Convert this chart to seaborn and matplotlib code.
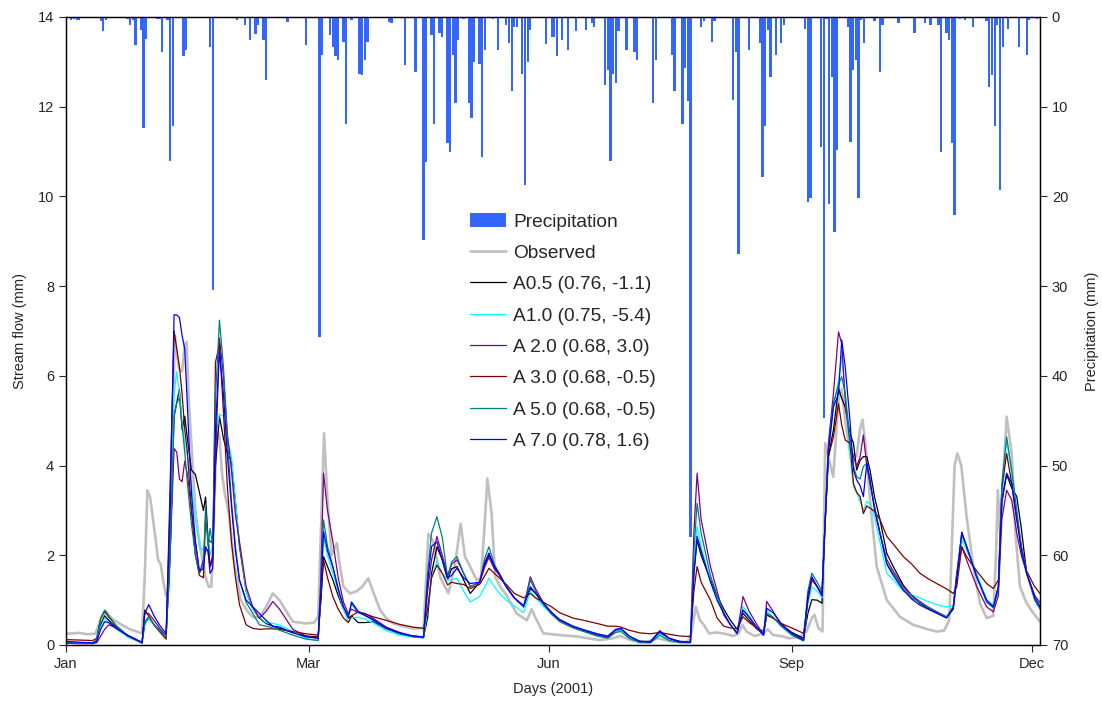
import matplotlib
matplotlib.use("Agg")
import matplotlib.pyplot as plt
import seaborn as sns
from matplotlib.patches import Patch
from matplotlib.lines import Line2D

# ---------------- data ----------------
model_days = [0, 5, 10, 11.5, 13, 14.5, 16, 19, 23, 28.5,
              29.5, 31, 33, 35, 37.5, 39, 40.5, 41.5, 42.5, 43.5,
              44.5, 45.5, 47, 48.5, 50, 51.5, 52.3, 53.2, 54, 55,
              56, 57.5, 59, 60.5, 62, 63.5, 65, 67.5, 70, 72.5,
              75, 77.5, 80, 85, 90, 94.5, 95.5, 96.5, 98, 100,
              102, 104, 105.8, 107, 109.5, 112, 115, 120, 125, 130,
              134, 135.5, 137, 139, 141, 143, 144.5, 146.5, 149, 151.5,
              155, 157, 158.5, 160.5, 162.5, 165, 168, 171.5, 174, 176,
              179, 182, 185, 190, 194, 199, 203, 206, 208, 211,
              215, 219, 222.5, 226, 230, 234, 235.3, 236.5, 238, 241.5,
              244, 246.5, 249, 251.5, 253.7, 256, 259, 261.4, 262.6, 265,
              268, 272, 276.4, 278, 279.5, 281.5, 283.3, 284.3, 285.7, 287.6,
              289.5, 290.7, 292, 293.8, 295.1, 296.3, 297.6, 298.8, 300.1, 301.3,
              303, 305, 307.6, 310, 313.8, 317, 320, 323, 326.3, 330,
              332.5, 333.8, 335.7, 337.5, 340, 341.3, 345, 347.5, 349.4, 350.7,
              352.5, 354.4, 356.3, 358, 360, 363, 365]

a05 = [.06, .05, .04, .10, .45, .65, .55, .38, .20, .05,
       .50, .63, .45, .33, .18, 2.0, 5.1, 5.4, 5.7, 4.8,
       5.1, 4.6, 3.9, 3.8, 3.4, 3.0, 3.3, 2.4, 2.3, 2.3,
       4.0, 5.1, 4.6, 4.27, 4.1, 3.2, 2.2, 1.2, 0.8, 0.6,
       0.48, 0.42, 0.37, 0.28, 0.2, 0.18, 1.0, 1.97, 1.75, 1.45,
       1.1, 0.8, 0.6, 0.65, 0.5, 0.5, 0.52, 0.37, 0.26, 0.2,
       0.18, 0.6, 1.6, 2.19, 1.9, 1.45, 1.7, 1.75, 1.45, 1.15,
       1.4, 1.8, 2.0, 1.75, 1.55, 1.3, 1.05, 0.85, 1.26, 1.15,
       0.9, 0.72, 0.55, 0.4, 0.33, 0.24, 0.18, 0.3, 0.33, 0.18,
       0.08, 0.07, 0.28, 0.15, 0.08, 0.06, 1.6, 2.34, 2.0, 1.45,
       1.1, 0.8, 0.55, 0.35, 0.71, 0.55, 0.35, 0.25, 0.67, 0.6,
       0.45, 0.28, 0.15, 0.7, 1.01, 1.0, 0.93, 2.5, 4.2, 4.8,
       5.72, 5.5, 5.3, 4.7, 4.5, 3.9, 4.12, 4.2, 4.2, 3.9,
       3.3, 2.8, 2.04, 1.75, 1.33, 1.1, 0.93, 0.82, 0.71, 0.62,
       0.8, 1.5, 2.49, 2.2, 1.75, 1.52, 1.0, 0.85, 1.3, 3.2,
       3.8, 3.5, 3.31, 2.6, 1.6, 1.1, 0.85]

a10 = [.08, .06, .05, .10, .40, .60, .50, .35, .18, .05,
       .50, .58, .45, .32, .18, 2.0, 5.6, 6.1, 5.6, 5.0,
       4.5, 4.2, 3.6, 2.8, 2.2, 2.1, 2.6, 2.5, 2.0, 2.2,
       4.6, 5.15, 5.1, 4.6, 4.2, 3.2, 2.3, 1.2, 0.8, 0.62,
       0.5, 0.48, 0.45, 0.3, 0.15, 0.1, 1.2, 2.42, 2.0, 1.6,
       1.2, 0.8, 0.52, 0.6, 0.62, 0.58, 0.5, 0.32, 0.22, 0.18,
       0.16, 0.8, 1.5, 1.86, 1.6, 1.45, 1.45, 1.49, 1.2, 0.96,
       1.08, 1.3, 1.49, 1.3, 1.15, 1.0, 0.87, 0.72, 1.2, 1.05,
       0.85, 0.7, 0.55, 0.42, 0.34, 0.25, 0.2, 0.3, 0.32, 0.18,
       0.08, 0.06, 0.25, 0.12, 0.06, 0.05, 1.8, 2.64, 2.2, 1.41,
       1.0, 0.7, 0.45, 0.26, 0.86, 0.65, 0.38, 0.22, 0.78, 0.62,
       0.42, 0.25, 0.11, 0.9, 1.3, 1.2, 1.05, 2.5, 4.35, 5.31,
       5.9, 6.43, 5.6, 4.2, 3.53, 3.4, 3.2, 3.0, 3.2, 3.15,
       2.85, 2.3, 1.6, 1.45, 1.2, 1.12, 1.05, 0.97, 0.9, 0.85,
       0.88, 1.5, 2.34, 2.1, 1.8, 1.6, 1.0, 0.89, 1.2, 3.3,
       4.57, 3.8, 2.9, 2.2, 1.6, 1.1, 0.9]

a20 = [.04, .03, .03, .05, .20, .35, .45, .38, .22, .06,
       .70, .70, .55, .38, .20, 2.0, 4.38, 4.3, 3.7, 3.64,
       4.1, 3.8, 3.0, 2.3, 1.6, 1.9, 2.1, 2.11, 1.75, 1.9,
       4.0, 6.84, 6.0, 4.7, 3.9, 2.9, 2.3, 1.3, 0.85, 0.6,
       0.75, 0.97, 0.8, 0.35, 0.2, 0.15, 1.5, 3.83, 3.0, 2.3,
       1.5, 0.95, 0.7, 0.8, 0.72, 0.7, 0.6, 0.4, 0.28, 0.2,
       0.18, 1.2, 1.9, 2.42, 2.0, 1.55, 1.8, 1.9, 1.6, 1.3,
       1.4, 1.75, 1.95, 1.7, 1.55, 1.3, 1.05, 0.85, 1.52, 1.25,
       0.93, 0.72, 0.55, 0.4, 0.31, 0.22, 0.17, 0.33, 0.37, 0.2,
       0.08, 0.08, 0.32, 0.15, 0.07, 0.06, 2.5, 3.83, 2.8, 1.75,
       1.2, 0.67, 0.45, 0.26, 1.08, 0.75, 0.45, 0.22, 0.97, 0.75,
       0.45, 0.25, 0.1, 1.0, 1.45, 1.3, 1.1, 2.5, 4.5, 5.61,
       6.98, 6.72, 5.46, 4.5, 4.2, 3.98, 4.2, 4.68, 4.0, 3.6,
       3.08, 2.5, 1.9, 1.65, 1.3, 1.1, 0.97, 0.85, 0.74, 0.62,
       0.85, 1.6, 2.19, 1.89, 1.5, 1.3, 0.85, 0.74, 1.1, 2.8,
       3.45, 3.23, 2.49, 2.0, 1.6, 1.1, 0.95]

a30 = [.12, .11, .10, .15, .60, .75, .62, .42, .22, .05,
       .78, .65, .45, .30, .13, 3.5, 7.0, 6.6, 6.2, 5.6,
       4.8, 4.3, 3.0, 2.0, 1.55, 1.5, 2.86, 2.4, 1.75, 2.0,
       6.3, 6.7, 5.2, 3.5, 2.3, 1.5, 0.9, 0.45, 0.37, 0.35,
       0.36, 0.36, 0.35, 0.3, 0.25, 0.22, 1.0, 1.9, 1.5, 1.08,
       0.8, 0.6, 0.5, 0.65, 0.74, 0.7, 0.63, 0.55, 0.46, 0.4,
       0.37, 0.8, 1.5, 1.78, 1.6, 1.34, 1.4, 1.37, 1.35, 1.26,
       1.35, 1.55, 1.71, 1.6, 1.49, 1.35, 1.15, 1.05, 1.15, 1.05,
       0.95, 0.85, 0.72, 0.6, 0.55, 0.48, 0.42, 0.42, 0.40, 0.33,
       0.27, 0.25, 0.28, 0.24, 0.2, 0.19, 1.2, 1.75, 1.4, 1.0,
       0.6, 0.42, 0.38, 0.36, 0.63, 0.5, 0.38, 0.3, 0.67, 0.6,
       0.48, 0.38, 0.26, 1.0, 1.5, 1.3, 1.15, 2.5, 4.2, 4.64,
       5.38, 4.9, 4.57, 4.5, 3.6, 3.4, 3.31, 2.93, 3.1, 3.05,
       2.98, 2.8, 2.42, 2.25, 1.97, 1.8, 1.6, 1.48, 1.37, 1.25,
       1.15, 1.3, 2.19, 1.97, 1.75, 1.65, 1.37, 1.26, 1.45, 3.5,
       4.27, 3.6, 2.8, 2.2, 1.65, 1.3, 1.15]

a50 = [.05, .04, .04, .12, .60, .78, .65, .42, .20, .04,
       .45, .63, .45, .32, .20, 2.0, 5.1, 5.4, 5.5, 4.9,
       4.3, 3.6, 2.7, 2.0, 1.6, 1.8, 3.08, 2.2, 2.6, 2.2,
       5.5, 7.24, 6.2, 4.6, 3.2, 2.2, 1.45, 0.95, 0.7, 0.45,
       0.42, 0.38, 0.33, 0.22, 0.13, 0.1, 1.3, 2.79, 2.2, 1.75,
       1.25, 0.85, 0.65, 0.92, 0.72, 0.66, 0.55, 0.36, 0.25, 0.18,
       0.16, 1.6, 2.5, 2.86, 2.4, 1.5, 1.85, 1.97, 1.6, 1.3,
       1.4, 1.95, 2.19, 1.8, 1.58, 1.3, 1.05, 0.85, 1.45, 1.2,
       0.9, 0.68, 0.52, 0.38, 0.3, 0.2, 0.15, 0.28, 0.3, 0.15,
       0.05, 0.05, 0.22, 0.1, 0.05, 0.05, 2.1, 3.16, 2.5, 1.55,
       1.1, 0.72, 0.45, 0.25, 0.78, 0.62, 0.38, 0.22, 0.71, 0.62,
       0.42, 0.22, 0.09, 1.2, 1.6, 1.4, 1.2, 2.5, 4.35, 5.4,
       5.8, 5.98, 5.6, 4.6, 3.98, 3.75, 3.7, 3.98, 4.05, 3.6,
       3.08, 2.5, 1.82, 1.6, 1.25, 1.05, 0.95, 0.84, 0.74, 0.63,
       0.85, 1.6, 2.45, 2.2, 1.75, 1.52, 0.95, 0.83, 1.25, 3.6,
       4.64, 3.9, 3.0, 2.2, 1.6, 1.0, 0.8]

a70 = [.08, .06, .05, .08, .35, .52, .50, .36, .22, .05,
       .70, .90, .65, .45, .25, 3.0, 7.36, 7.36, 7.3, 6.9,
       6.6, 5.3, 3.4, 2.3, 1.65, 1.7, 2.19, 2.1, 1.6, 1.7,
       4.8, 6.54, 5.6, 4.2, 3.1, 2.1, 1.45, 1.0, 0.85, 0.7,
       0.55, 0.42, 0.40, 0.27, 0.18, 0.15, 1.2, 2.53, 2.1, 1.74,
       1.25, 0.85, 0.62, 0.96, 0.75, 0.66, 0.57, 0.38, 0.27, 0.2,
       0.18, 1.4, 2.2, 2.3, 1.9, 1.5, 1.55, 1.71, 1.5, 1.37,
       1.4, 1.85, 2.05, 1.75, 1.58, 1.3, 1.05, 0.88, 1.3, 1.15,
       0.93, 0.72, 0.57, 0.42, 0.34, 0.25, 0.2, 0.35, 0.37, 0.2,
       0.08, 0.06, 0.3, 0.15, 0.07, 0.06, 1.6, 2.42, 2.1, 1.41,
       1.0, 0.7, 0.45, 0.26, 0.78, 0.62, 0.38, 0.22, 0.82, 0.72,
       0.48, 0.26, 0.11, 1.1, 1.52, 1.3, 1.1, 2.5, 4.3, 5.31,
       5.6, 6.8, 6.2, 5.0, 3.9, 3.68, 3.55, 3.31, 4.05, 3.7,
       3.0, 2.5, 1.8, 1.55, 1.22, 1.02, 0.89, 0.8, 0.71, 0.6,
       0.82, 1.5, 2.52, 2.19, 1.75, 1.52, 1.0, 0.85, 1.3, 3.2,
       3.83, 3.6, 2.8, 2.1, 1.6, 1.05, 0.85]

obs_days = [0, 5, 8, 11, 13, 15, 17, 20, 24, 28.5,
            29.5, 30.5, 31.5, 32.3, 33.5, 34.5, 35.5, 36.5, 37.5, 38.5,
            39.5, 40.8, 41.5, 42.5, 43.5, 44.5, 45.2, 46, 47.5, 48.5,
            49.5, 50.5, 51.5, 52.3, 53.5, 54.5, 55.5, 56.5, 57.5, 58.5,
            59.5, 61, 63, 65.5, 68, 70, 72.5, 75, 77.5, 80,
            85, 90, 93, 94.5, 95.5, 96.7, 98, 99.5, 101.5, 102.5,
            104, 106.4, 109, 111, 113.3, 115, 117.7, 120, 122.7, 126,
            130.2, 134, 135.8, 137.7, 139, 140.2, 142, 143.3, 145.8, 147.9,
            149.5, 151.4, 153.9, 155.5, 156.8, 157.9, 159.5, 160.8, 162.7, 165.2,
            168.9, 172.7, 174.5, 176, 178.9, 185.2, 191.4, 200, 205, 207.7,
            212, 217.7, 222, 226.4, 233, 234.5, 236, 237.5, 239, 241,
            244, 247, 250, 252, 253.5, 255, 258, 261, 263, 265,
            268, 271, 275, 277.5, 279.5, 280.5, 282, 283.5, 284.5, 287.5,
            289.5, 290.7, 292, 293.8, 296.3, 297.5, 298.5, 299.7, 301.3, 303.8,
            307.6, 312.5, 317.5, 323, 326.3, 329, 331, 333, 334, 335.5,
            337.5, 340, 342.5, 345, 347.5, 348.5, 349.2, 350, 351, 352.5,
            354.4, 355.8, 357.5, 360, 362.5, 365]

obs_flow = [0.25, 0.27, 0.24, 0.25, 0.55, 0.75, 0.6, 0.48, 0.35, 0.26,
            1.5, 3.45, 3.3, 2.94, 2.4, 1.9, 1.8, 1.4, 1.1, 1.2,
            4.0, 6.9, 6.5, 6.13, 6.1, 6.7, 6.76, 5.46, 3.97, 3.0,
            2.5, 2.1, 1.8, 1.5, 1.3, 1.3, 3.0, 4.86, 4.64, 3.8,
            3.38, 2.94, 1.83, 1.0, 0.75, 0.62, 0.62, 0.85, 1.15, 1.0,
            0.52, 0.48, 0.5, 0.63, 2.5, 4.72, 3.23, 2.0, 2.27, 1.8,
            1.3, 1.15, 1.2, 1.3, 1.49, 1.2, 0.78, 0.6, 0.48, 0.42,
            0.37, 0.38, 2.48, 2.3, 1.9, 1.52, 1.3, 1.15, 1.8, 2.7,
            1.97, 1.75, 1.45, 1.5, 2.6, 3.71, 2.93, 1.52, 1.3, 1.1,
            0.7, 0.55, 0.8, 0.6, 0.26, 0.22, 0.19, 0.11, 0.15, 0.2,
            0.1, 0.07, 0.15, 0.08, 0.07, 0.3, 0.85, 0.56, 0.45, 0.26,
            0.28, 0.25, 0.2, 0.25, 0.45, 0.3, 0.2, 0.25, 0.35, 0.22,
            0.2, 0.15, 0.18, 0.3, 0.6, 0.67, 0.37, 0.3, 4.5, 3.75,
            5.46, 5.7, 5.0, 4.3, 4.2, 4.8, 5.02, 4.4, 3.23, 1.75,
            1.0, 0.63, 0.45, 0.35, 0.3, 0.32, 0.55, 4.0, 4.27, 4.0,
            2.86, 1.75, 0.93, 0.6, 0.65, 2.0, 3.45, 2.5, 3.5, 5.09,
            4.27, 2.49, 1.3, 0.93, 0.71, 0.52]

rain_days = [2, 3, 4, 5, 7, 13, 14, 15, 23, 24,
             25, 26, 28, 29, 30, 34, 35, 36, 38, 39,
             40, 44, 45, 52, 54, 55, 64, 67, 69, 71,
             72, 74, 75, 83, 90, 95, 96, 99, 100, 101,
             102, 104, 105, 107, 110, 111, 112, 113, 121, 122,
             127, 128, 131, 134, 135, 137, 138, 140, 141, 143,
             144, 145, 146, 147, 149, 151, 152, 153, 155, 156,
             157, 160, 162, 165, 166, 167, 168, 169, 171, 172,
             173, 174, 180, 182, 183, 184, 186, 188, 191, 195,
             197, 198, 202, 203, 204, 205, 206, 207, 210, 213,
             214, 220, 221, 227, 228, 231, 232, 233, 234, 238,
             239, 242, 243, 250, 251, 252, 256, 260, 261, 262,
             263, 264, 266, 268, 269, 277, 278, 279, 283, 284,
             285, 286, 287, 288, 289, 293, 294, 295, 296, 297,
             298, 299, 303, 305, 306, 312, 318, 322, 324, 327,
             328, 330, 331, 332, 333, 335, 337, 340, 345, 346,
             347, 348, 349, 350, 351, 353, 357, 360, 361, 364]

rain_mm = [0.3, 0.2, 0.3, 0.3, 0.1, 0.4, 1.6, 0.3, 0.2, 0.9,
           0.35, 3.1, 1.45, 12.4, 2.5, 0.2, 0.2, 3.9, 0.3, 16.1,
           12.2, 4.4, 3.7, 0.1, 3.3, 30.4, 0.3, 0.9, 2.6, 1.9,
           0.9, 2.6, 7.0, 0.6, 3.1, 35.7, 4.2, 2.0, 3.3, 4.4,
           4.8, 2.8, 11.9, 0.3, 6.3, 6.5, 4.8, 2.8, 0.6, 0.7,
           5.4, 0.1, 6.1, 24.9, 16.2, 2.0, 11.9, 1.8, 2.2, 14.1,
           15.0, 4.2, 9.6, 2.6, 0.2, 9.6, 11.3, 5.0, 5.2, 15.6,
           3.7, 0.2, 3.7, 0.9, 2.9, 8.3, 1.1, 1.1, 6.3, 18.7,
           5.0, 1.45, 3.0, 2.2, 2.2, 4.4, 2.6, 3.7, 1.6, 1.45,
           0.7, 1.1, 7.6, 5.9, 16.1, 6.3, 7.4, 1.6, 3.7, 3.9,
           4.8, 9.6, 4.8, 4.2, 8.3, 11.9, 5.7, 9.4, 58.0, 1.1,
           0.5, 2.8, 0.5, 9.3, 3.9, 26.4, 3.7, 2.9, 17.8, 12.2,
           1.45, 6.7, 4.2, 2.9, 0.9, 1.3, 20.6, 20.2, 14.5, 44.7,
           0.2, 20.8, 6.7, 24.0, 14.8, 1.1, 13.9, 5.9, 4.8, 20.2,
           0.3, 2.9, 0.5, 6.1, 0.9, 0.7, 1.8, 0.7, 0.9, 0.9,
           15.0, 1.8, 2.6, 14.1, 22.1, 0.2, 0.3, 1.1, 0.5, 7.8,
           6.5, 12.1, 0.9, 19.3, 3.3, 1.3, 3.3, 4.2, 0.3, 0.2]

month_ticks = [0, 91, 181, 272, 362]
month_labels = ["Jan", "Mar", "Jun", "Sep", "Dec"]
flow_ticks = [0, 2, 4, 6, 8, 10, 12, 14]
rain_ticks = [0, 10, 20, 30, 40, 50, 60, 70]

series_labels = ["A0.5 (0.76, -1.1)", "A1.0 (0.75, -5.4)", "A 2.0 (0.68, 3.0)",
                 "A 3.0 (0.68, -0.5)", "A 5.0 (0.68, -0.5)", "A 7.0 (0.78, 1.6)"]
series_values = [a05, a10, a20, a30, a50, a70]
series_colors = ["#000000", "#00FFFF", "#800080", "#800000", "#008080", "#0000FF"]
obs_color = "#C0C0C0"
rain_color = "#3366FF"

# ---------------- plot ----------------
sns.set_style("ticks")
plt.rcParams["font.family"] = ["Liberation Sans", "DejaVu Sans"]

fig = plt.figure(figsize=(11.02, 7.08), dpi=100)
ax = fig.add_axes([66 / 1102, 63 / 708, 974 / 1102, 628 / 708])

sns.lineplot(x=obs_days, y=obs_flow, ax=ax, color=obs_color, linewidth=1.9,
             estimator=None, sort=False)
for vals, col in zip(series_values, series_colors):
    sns.lineplot(x=model_days, y=vals, ax=ax, color=col, linewidth=0.9,
                 estimator=None, sort=False)

ax.set_xlim(0, 365)
ax.set_ylim(0, 14)
ax.set_yticks(flow_ticks)
ax.set_xticks(month_ticks)
ax.set_xticklabels(month_labels)
ax.set_xlabel("Days (2001)", fontsize=10.5, labelpad=8)
ax.set_ylabel("Stream flow (mm)", fontsize=10.5, labelpad=8)
ax.tick_params(axis="both", labelsize=10.5, direction="out", length=5, width=0.8)

ax2 = ax.twinx()
ax2.bar(rain_days, rain_mm, width=0.85, color=rain_color, linewidth=0)
ax2.set_ylim(70, 0)
ax2.set_xlim(0, 365)
ax2.set_yticks(rain_ticks)
ax2.set_ylabel("Precipitation (mm)", fontsize=10.5, labelpad=12)
ax2.tick_params(axis="y", labelsize=10.5, direction="out", length=5, width=0.8)

for a in (ax, ax2):
    for sp in a.spines.values():
        sp.set_visible(True)
        sp.set_color("black")
        sp.set_linewidth(0.9)

handles = [Patch(facecolor=rain_color, edgecolor="none"),
           Line2D([], [], color=obs_color, linewidth=1.9)]
handles += [Line2D([], [], color=c, linewidth=0.9) for c in series_colors]
labels = ["Precipitation", "Observed"] + series_labels
ax2.legend(handles, labels, loc="upper left", bbox_to_anchor=(0.415, 0.688),
           frameon=False, fontsize=13.8, handlelength=1.85, handleheight=0.75,
           handletextpad=0.4, labelspacing=0.71, borderpad=0, borderaxespad=0)

fig.savefig("out.png", dpi=100)
